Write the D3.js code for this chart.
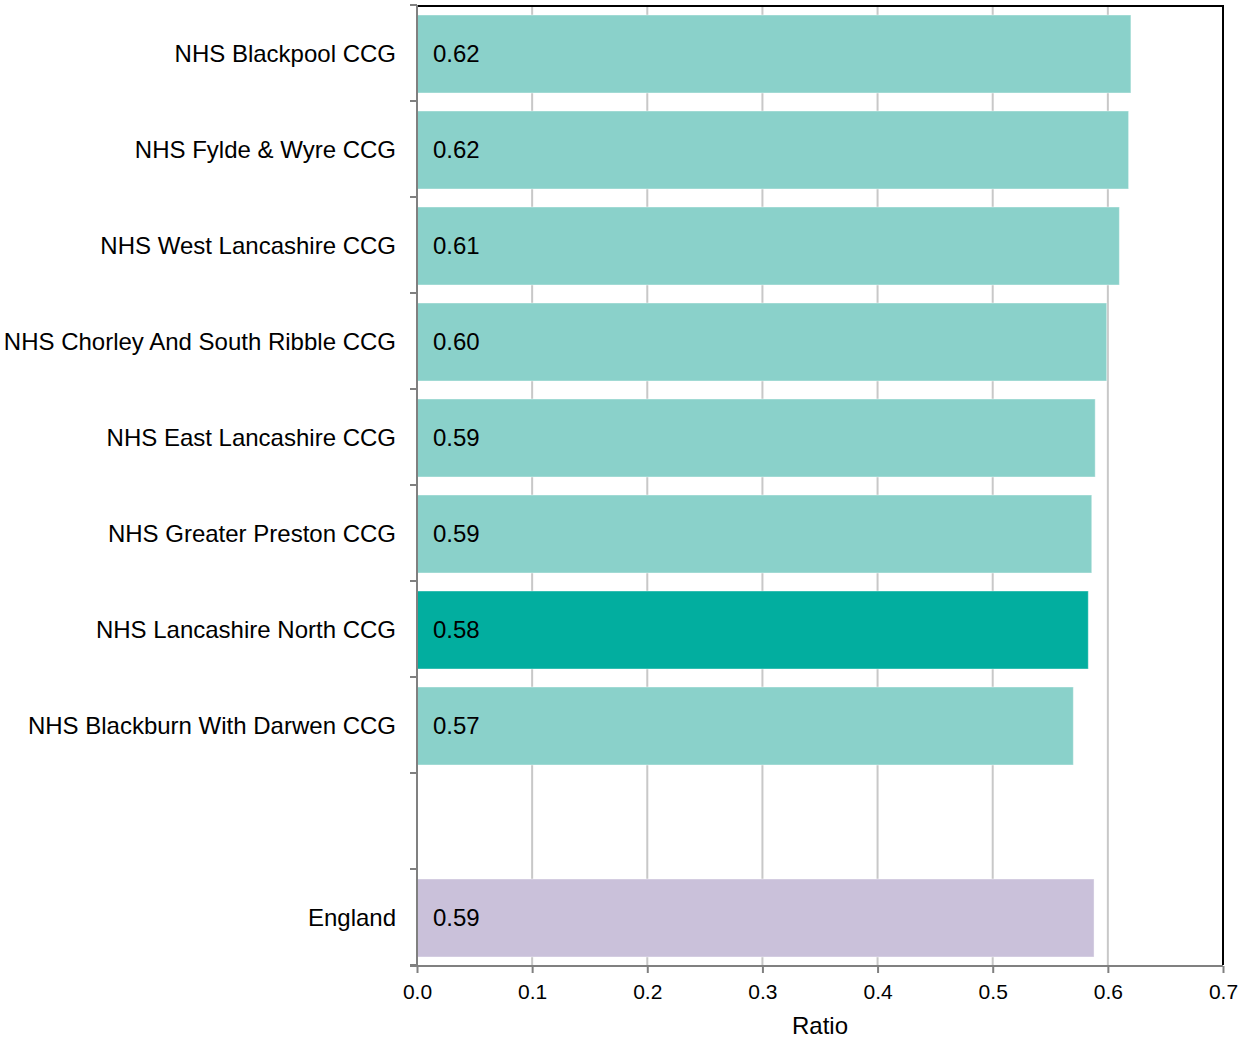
<!DOCTYPE html>
<html><head><meta charset="utf-8">
<script src="https://cdn.jsdelivr.net/npm/d3@7"></script>
<style>body{margin:0;background:#fff}svg text{font-family:"Liberation Sans",Arial,sans-serif}</style>
</head><body><svg id="c" width="1240" height="1038"></svg>
<script>
const categories = ["NHS Blackpool CCG","NHS Fylde & Wyre CCG","NHS West Lancashire CCG","NHS Chorley And South Ribble CCG","NHS East Lancashire CCG","NHS Greater Preston CCG","NHS Lancashire North CCG","NHS Blackburn With Darwen CCG","","England"];
const values = [0.620,0.618,0.610,0.599,0.589,0.586,0.583,0.570,null,0.588];
const labels = ["0.62","0.62","0.61","0.60","0.59","0.59","0.58","0.57","","0.59"];
const kinds = ["other","other","other","other","other","other","focus","other","none","england"];
const xTicks = [0,0.1,0.2,0.3,0.4,0.5,0.6,0.7];
const colors = {other:"#8AD1CA", focus:"#02AE9F", england:"#CAC1DA"};

const svg = d3.select("#c");
const m = {l:417, r:1223, t:5, b:965};
const x = d3.scaleLinear().domain([0,0.7]).range([m.l,m.r]);
const y = d3.scaleBand().domain(d3.range(categories.length)).range([m.t+1,m.b+1]).paddingInner(0.1875).paddingOuter(0.09375);

// gridlines
svg.append("g").selectAll("line").data(xTicks.slice(1,-1)).join("line")
  .attr("x1",d=>x(d)).attr("x2",d=>x(d)).attr("y1",m.t).attr("y2",m.b)
  .attr("stroke","#c8c8c8").attr("stroke-width",2);

// bars
const data = categories.map((c,i)=>({c,v:values[i],lab:labels[i],k:kinds[i],i})).filter(d=>d.v!=null);
svg.append("g").selectAll("rect").data(data).join("rect")
  .attr("x",x(0)).attr("y",d=>y(d.i)).attr("width",d=>x(d.v)-x(0)).attr("height",y.bandwidth())
  .attr("fill",d=>colors[d.k]).attr("stroke","#ffffff").attr("stroke-opacity",0.4).attr("stroke-width",1);

svg.append("g").selectAll("text").data(data).join("text")
  .attr("x",433).attr("y",d=>y(d.i)+y.bandwidth()/2).attr("dy","0.32em")
  .attr("font-size",24).attr("fill","#000").text(d=>d.lab);

// frame top/right
svg.append("line").attr("x1",m.l).attr("x2",m.r+1).attr("y1",m.t+1).attr("y2",m.t+1).attr("stroke","#000").attr("stroke-width",2);
svg.append("line").attr("x1",m.r).attr("x2",m.r).attr("y1",m.t).attr("y2",m.b).attr("stroke","#000").attr("stroke-width",2);

// y axis
const slot = (m.b-m.t)/categories.length;
const yg = svg.append("g");
yg.append("line").attr("x1",m.l).attr("x2",m.l).attr("y1",m.t).attr("y2",m.b).attr("stroke","#808080").attr("stroke-width",2);
yg.selectAll("line.t").data(d3.range(categories.length+1)).join("line").attr("class","t")
  .attr("x1",m.l-7).attr("x2",m.l).attr("y1",d=>m.t+d*slot).attr("y2",d=>m.t+d*slot)
  .attr("stroke","#808080").attr("stroke-width",2);
yg.selectAll("text").data(categories).join("text")
  .attr("x",396).attr("y",(d,i)=>y(i)+y.bandwidth()/2).attr("dy","0.32em").attr("text-anchor","end")
  .attr("font-size",24).attr("fill","#000").text(d=>d);

// x axis
const xAxis = d3.axisBottom(x).tickValues(xTicks).tickFormat(d3.format(".1f")).tickSize(7).tickPadding(11);
const xg = svg.append("g").attr("transform",`translate(0,${m.b+1})`).call(xAxis);
xg.select(".domain").attr("stroke","#808080").attr("stroke-width",2).attr("d",`M${m.l-7},0H${m.r}`);
xg.selectAll(".tick line").attr("stroke","#808080").attr("stroke-width",2);
xg.selectAll(".tick text").attr("font-size",21).attr("fill","#000").attr("font-family","Liberation Sans, Arial, sans-serif");

svg.append("text").attr("x",(m.l+m.r)/2).attr("y",1034).attr("text-anchor","middle")
  .attr("font-size",24).attr("fill","#000").text("Ratio");
</script></body></html>
